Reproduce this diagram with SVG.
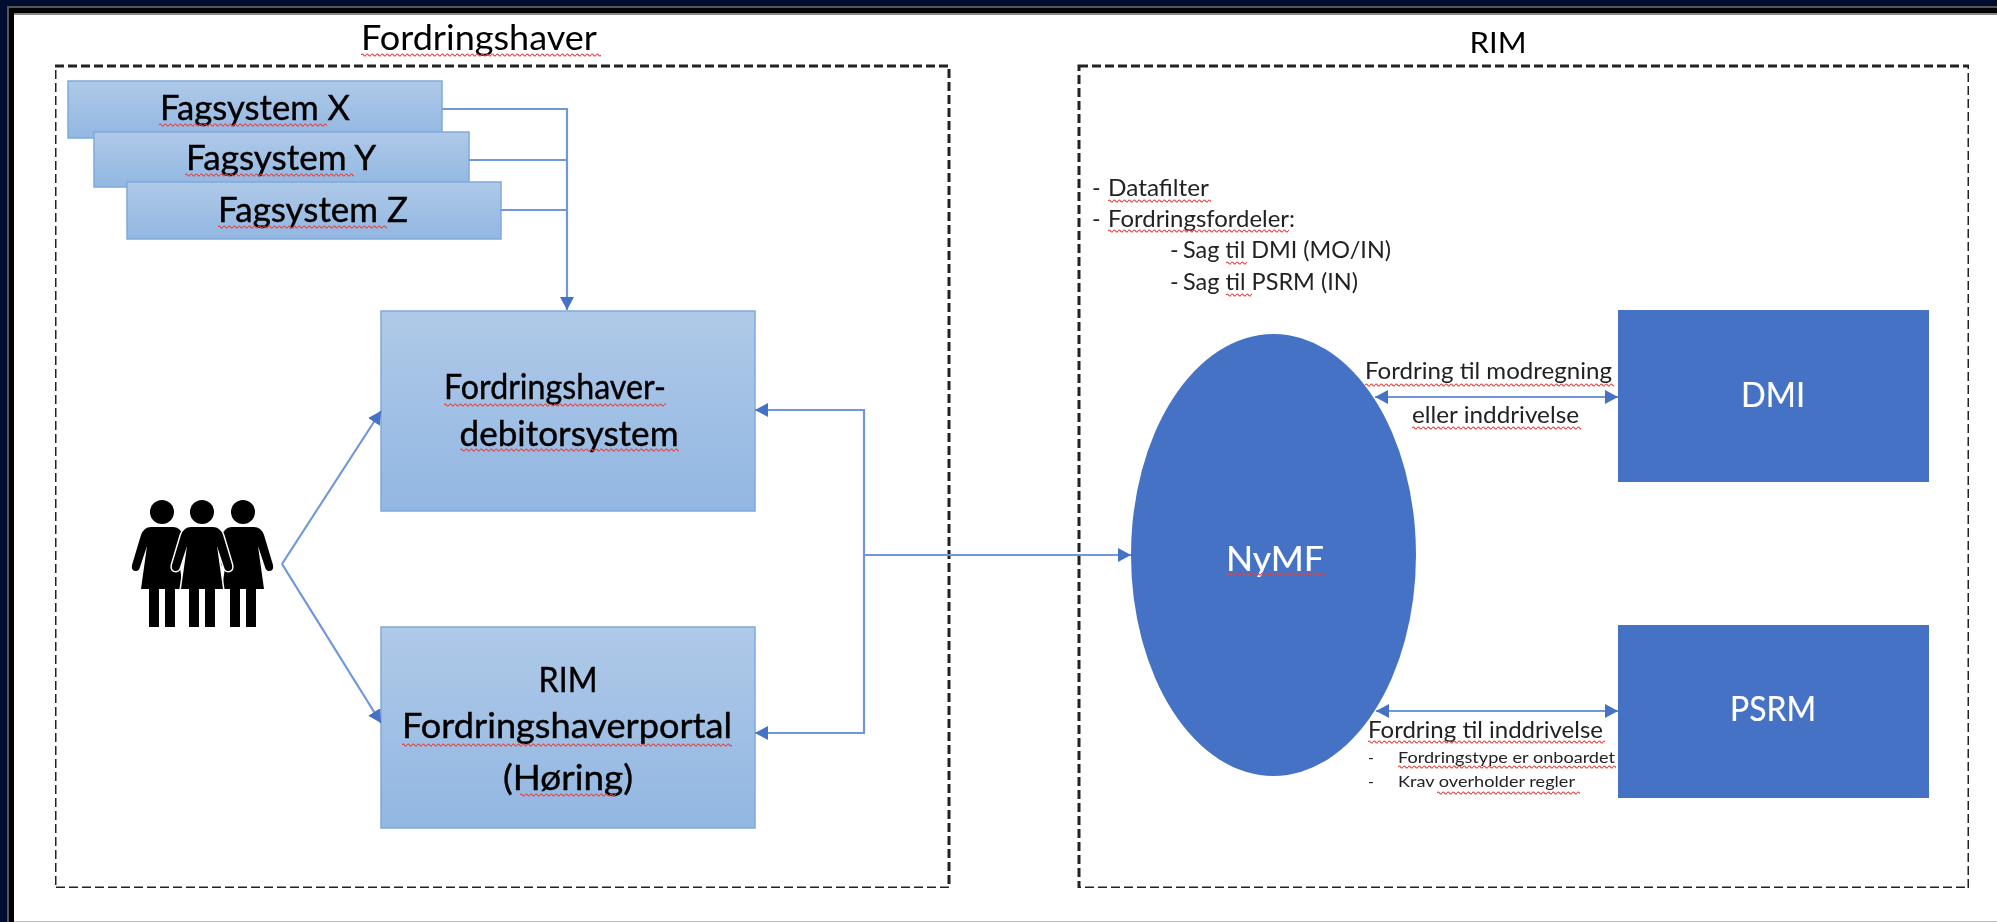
<svg xmlns="http://www.w3.org/2000/svg" xmlns:xlink="http://www.w3.org/1999/xlink" width="1997" height="922" viewBox="0 0 1997 922">
<style>
text{font-family:"Lato","Liberation Sans",sans-serif;fill:#000}
.big{font-size:34px;text-anchor:middle;stroke:#000;stroke-width:.4}
.mid{font-size:23px;fill:#222}
.sm{font-size:16px;fill:#222}
.w{fill:#fff;stroke:#fff;stroke-width:.2}
.frame{fill:none;stroke:#222;stroke-width:3;stroke-dasharray:9 4}
.box{fill:url(#g);stroke:#7fa9dc;stroke-width:1.5}
.solid{fill:#4472c4}
.cn{fill:none;stroke:#6f96dc;stroke-width:2.2}
.sq{fill:url(#wave);height:4px}
</style>
<defs>
<linearGradient id="g" x1="0" y1="0" x2="0" y2="1"><stop offset="0" stop-color="#afc9e8"/><stop offset="1" stop-color="#92b7e2"/></linearGradient>
<pattern id="wave" patternUnits="userSpaceOnUse" width="5" height="4"><path d="M0 2Q1.25 0 2.5 2T5 2" fill="none" stroke="#e8403c" stroke-width="1.2"/></pattern>
<marker id="a" markerUnits="userSpaceOnUse" markerWidth="14" markerHeight="14" refX="13" refY="7" orient="auto-start-reverse"><path d="M0 0L13 7L0 14Z" fill="#4472c4"/></marker>
<path id="p" d="M-11 527H11Q18 527 21 535L30 565Q31 571 26 571Q23 571 22 567L15 546L21 589H13V627H3V589H-3V627H-13V589H-21L-15 546L-22 567Q-23 571-26 571Q-31 571-30 565L-21 535Q-18 527-11 527Z"/>
<filter id="soft" x="0" y="0" width="100%" height="100%"><feGaussianBlur stdDeviation="0.7"/></filter>
</defs>
<rect width="1997" height="922" fill="#fff"/>
<g id="screen-border">
<rect x="0" y="0" width="1997" height="7" fill="#000c30"/>
<rect x="0" y="0" width="7" height="922" fill="#000c30"/>
<rect x="7" y="6" width="1990" height="2" fill="#555"/>
<rect x="7" y="8" width="1990" height="5" fill="#000"/>
<rect x="7" y="13" width="1990" height="2" fill="#888"/>
<rect x="7" y="6" width="2" height="916" fill="#555"/>
<rect x="9" y="8" width="5" height="914" fill="#000"/>
<rect x="14" y="921" width="1983" height="1" fill="#bbb"/>
</g>
<g filter="url(#soft)">
<g id="fordringshaver-frame">
<rect class="frame" x="55" y="66" width="894" height="822"/>
<text x="479" y="50" font-size="34" text-anchor="middle" textLength="236" lengthAdjust="spacingAndGlyphs">Fordringshaver</text>
<rect class="sq" transform="translate(361 53)" width="240"/>
</g>
<g id="rim-frame">
<rect class="frame" x="1079" y="66" width="890" height="822"/>
<text x="1498" y="53" font-size="29" text-anchor="middle" textLength="57" lengthAdjust="spacingAndGlyphs">RIM</text>
</g>
<g id="fagsystem-x">
<rect class="box" x="68" y="81" width="374" height="57"/>
<text class="big" x="255" y="120" textLength="190" lengthAdjust="spacingAndGlyphs">Fagsystem X</text>
<rect class="sq" transform="translate(159 123)" width="168"/>
</g>
<g id="fagsystem-y">
<rect class="box" x="94" y="132" width="375" height="55"/>
<text class="big" x="281" y="170" textLength="190" lengthAdjust="spacingAndGlyphs">Fagsystem Y</text>
<rect class="sq" transform="translate(185 173)" width="169"/>
</g>
<g id="fagsystem-z">
<rect class="box" x="127" y="182" width="374" height="57"/>
<text class="big" x="313" y="222" textLength="190" lengthAdjust="spacingAndGlyphs">Fagsystem Z</text>
<rect class="sq" transform="translate(218 225)" width="169"/>
</g>
<g id="fordringshaver-debitorsystem">
<rect class="box" x="381" y="311" width="374" height="200"/>
<text class="big" x="555" y="399" textLength="222" lengthAdjust="spacingAndGlyphs">Fordringshaver-</text>
<text class="big" x="569" y="446" textLength="219" lengthAdjust="spacingAndGlyphs">debitorsystem</text>
<rect class="sq" transform="translate(444 403)" width="222"/>
<rect class="sq" transform="translate(460 448)" width="219"/>
</g>
<g id="fordringshaverportal">
<rect class="box" x="381" y="627" width="374" height="201"/>
<text class="big" x="568" y="692" textLength="59" lengthAdjust="spacingAndGlyphs">RIM</text>
<text class="big" x="567" y="738" textLength="330" lengthAdjust="spacingAndGlyphs">Fordringshaverportal</text>
<text class="big" x="568" y="790" textLength="130" lengthAdjust="spacingAndGlyphs">(Høring)</text>
<rect class="sq" transform="translate(402 743)" width="330"/>
<rect class="sq" transform="translate(520 793)" width="96"/>
</g>
<g id="people">
<circle cx="162" cy="512" r="12"/><circle cx="202" cy="512" r="12"/><circle cx="243" cy="512" r="12"/>
<use xlink:href="#p" href="#p" x="162"/>
<use xlink:href="#p" href="#p" x="243"/>
<use xlink:href="#p" href="#p" x="202" stroke="#fff" stroke-width="3" paint-order="stroke"/>
</g>
<g id="nymf">
<ellipse class="solid" cx="1273.5" cy="555" rx="142.5" ry="221"/>
<text class="big w" x="1275" y="571" textLength="98" lengthAdjust="spacingAndGlyphs">NyMF</text>
<rect class="sq" transform="translate(1226 572)" width="99"/>
</g>
<g id="dmi">
<rect class="solid" x="1618" y="310" width="311" height="172"/>
<text class="big w" x="1773" y="407" textLength="64" lengthAdjust="spacingAndGlyphs">DMI</text>
</g>
<g id="psrm">
<rect class="solid" x="1618" y="625" width="311" height="173"/>
<text class="big w" x="1773" y="721" textLength="86" lengthAdjust="spacingAndGlyphs">PSRM</text>
</g>
<g id="connectors">
<path class="cn" d="M442 109H567V310" marker-end="url(#a)"/>
<path class="cn" d="M469 160H567"/>
<path class="cn" d="M501 210H567"/>
<path class="cn" d="M282 564L381 411" marker-end="url(#a)"/>
<path class="cn" d="M282 564L381 723" marker-end="url(#a)"/>
<path class="cn" d="M755 410H864V733H755" marker-start="url(#a)" marker-end="url(#a)"/>
<path class="cn" d="M864 555H1131" marker-end="url(#a)"/>
<path class="cn" d="M1375 397H1618" marker-start="url(#a)" marker-end="url(#a)"/>
<path class="cn" d="M1376 711H1618" marker-start="url(#a)" marker-end="url(#a)"/>
</g>
<g id="notes">
<text class="mid" x="1092" y="196">-</text>
<text class="mid" x="1108" y="196" textLength="101" lengthAdjust="spacingAndGlyphs">Datafilter</text>
<rect class="sq" transform="translate(1108 199)" width="103"/>
<text class="mid" x="1092" y="227">-</text>
<text class="mid" x="1108" y="227" textLength="187" lengthAdjust="spacingAndGlyphs">Fordringsfordeler:</text>
<rect class="sq" transform="translate(1108 229)" width="181"/>
<text class="mid" x="1170" y="258">-</text>
<text class="mid" x="1183" y="258" textLength="208" lengthAdjust="spacingAndGlyphs">Sag til DMI (MO/IN)</text>
<rect class="sq" transform="translate(1226 261)" width="21"/>
<text class="mid" x="1170" y="290">-</text>
<text class="mid" x="1183" y="290" textLength="175" lengthAdjust="spacingAndGlyphs">Sag til PSRM (IN)</text>
<rect class="sq" transform="translate(1226 293)" width="26"/>
<text class="mid" x="1365" y="379" textLength="247" lengthAdjust="spacingAndGlyphs">Fordring til modregning</text>
<rect class="sq" transform="translate(1365 383)" width="249"/>
<text class="mid" x="1412" y="423" textLength="167" lengthAdjust="spacingAndGlyphs">eller inddrivelse</text>
<rect class="sq" transform="translate(1412 426)" width="169"/>
<text class="mid" x="1368" y="738" textLength="235" lengthAdjust="spacingAndGlyphs">Fordring til inddrivelse</text>
<rect class="sq" transform="translate(1368 740)" width="237"/>
<text class="sm" x="1368" y="763">-</text>
<text class="sm" x="1398" y="763" textLength="217" lengthAdjust="spacingAndGlyphs">Fordringstype er onboardet</text>
<rect class="sq" transform="translate(1398 765)" width="218"/>
<text class="sm" x="1368" y="787">-</text>
<text class="sm" x="1398" y="787" textLength="177" lengthAdjust="spacingAndGlyphs">Krav overholder regler</text>
<rect class="sq" transform="translate(1437 791)" width="143"/>
</g>
</g>
</svg>
